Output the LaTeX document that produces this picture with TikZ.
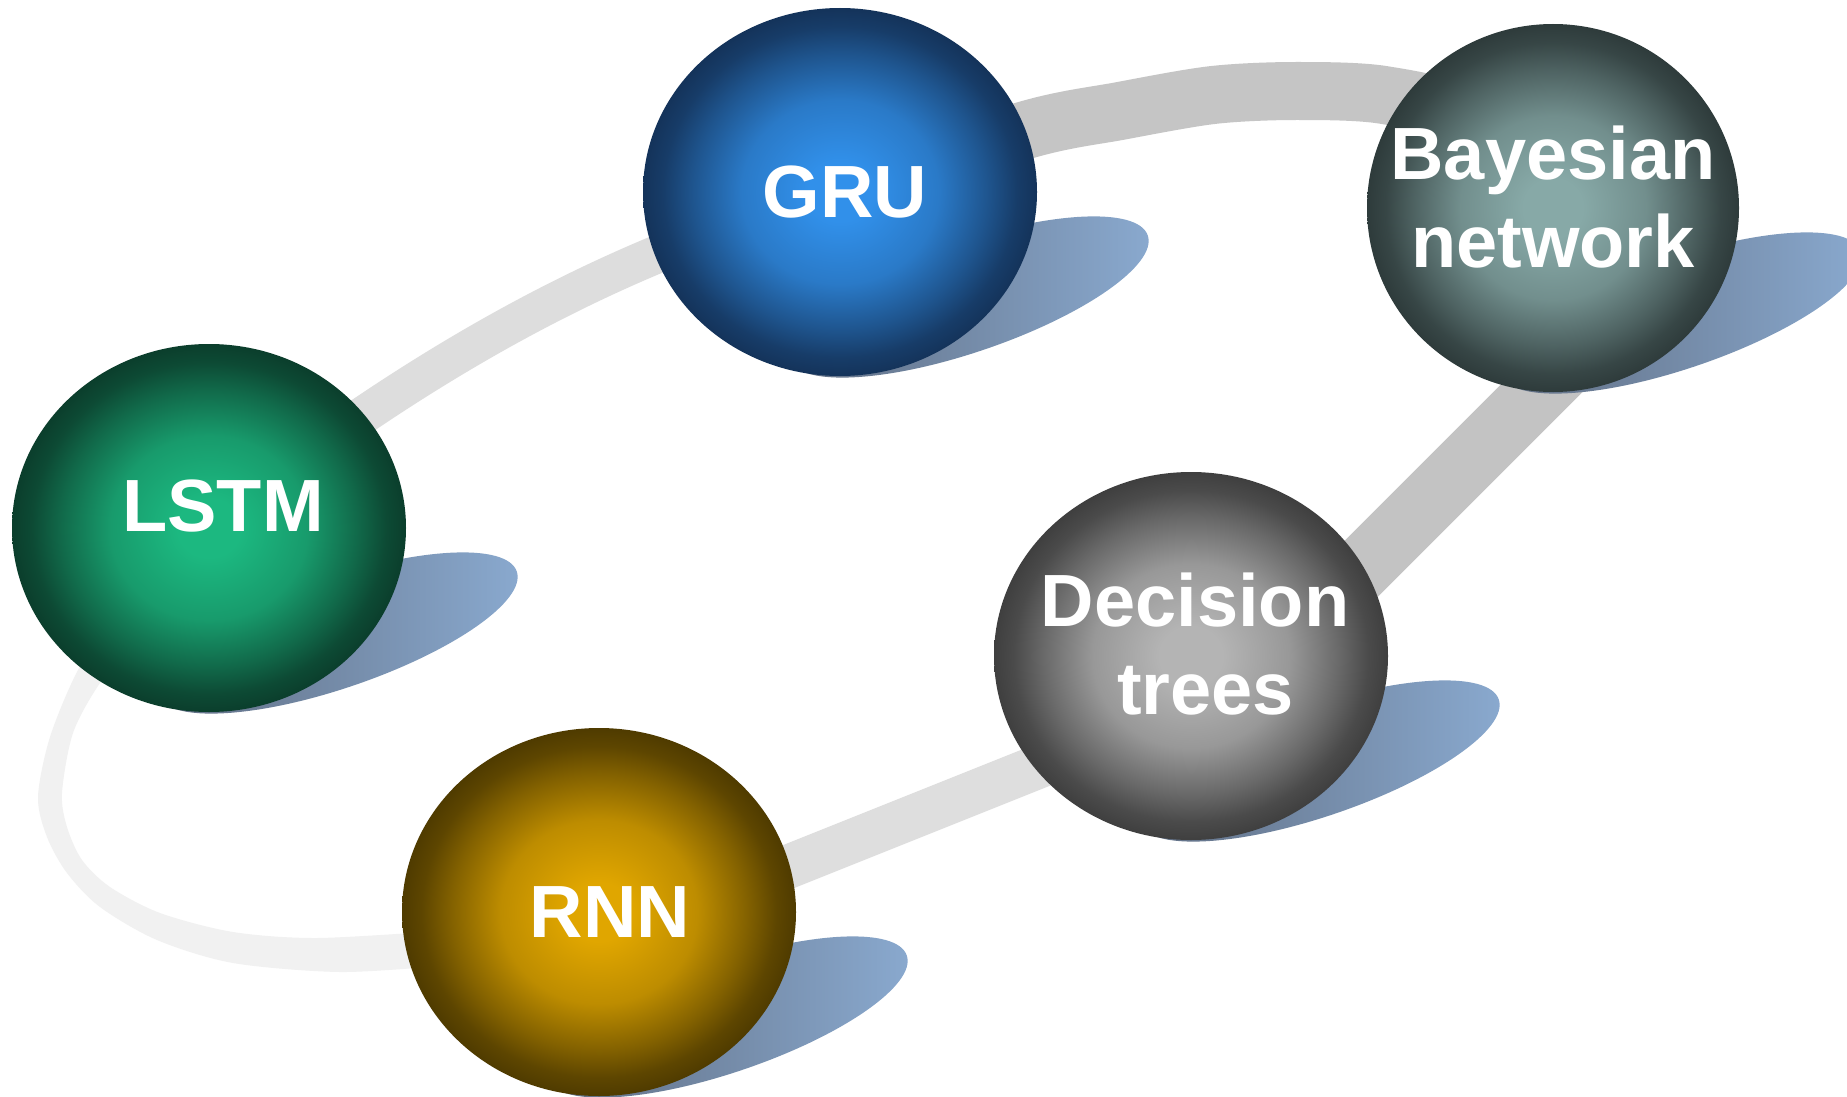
\documentclass[tikz,border=0pt]{standalone}
\usepackage{fontspec}
\setmainfont{Liberation Sans}
\usetikzlibrary{shapes.geometric}

\newcommand{\mkball}[3]{%
  \definecolor{#1C}{HTML}{#2}%
  \definecolor{#1E}{HTML}{#3}%
  \colorlet{#1A}{#1C!76!#1E}%
  \colorlet{#1B}{#1C!36!#1E}%
  \colorlet{#1D}{#1C!10!#1E}%
  \pgfdeclareradialshading{#1shade}{\pgfpoint{0bp}{0bp}}{color(0bp)=(#1C); color(4bp)=(#1C); color(12.5bp)=(#1A); color(18.75bp)=(#1B); color(22.5bp)=(#1D); color(25bp)=(#1E); color(50bp)=(#1E)}%
}
\mkball{gru}{3190EA}{14335A}
\mkball{lstm}{1CB880}{0B3E2C}
\mkball{bay}{87A9A7}{2E3B3B}
\mkball{dec}{B4B4B4}{3F3F3F}
\mkball{rnn}{E0A600}{4F3B00}

\definecolor{bandA}{HTML}{DDDDDD}
\definecolor{bandB}{HTML}{C5C5C5}
\definecolor{bandC}{HTML}{C3C3C3}
\definecolor{bandD}{HTML}{DEDEDE}
\definecolor{bandE}{HTML}{F1F1F1}
\definecolor{shdark}{HTML}{5F6C80}
\definecolor{shlight}{HTML}{8AAAD0}

\begin{document}
\begin{tikzpicture}[x=1pt, y=-1pt,
  ball/.style={ellipse, minimum width=394pt, minimum height=368pt, inner sep=0pt, shade},
  lbl/.style={text=white, font=\fontsize{74}{88}\selectfont\bfseries, align=center, inner sep=0pt},
  bandline/.style={line cap=butt, line join=round},
  shadowshape/.style={left color=shdark, right color=shlight}]
\fill[white] (0,0) rectangle (1847,1097);
\useasboundingbox (0,0) rectangle (1847,1097);

% ball centres
\coordinate (cG) at (840,192);
\coordinate (cB) at (1553,208);
\coordinate (cL) at (209,528);
\coordinate (cD) at (1191,656);
\coordinate (cR) at (599,912);

% ring band
\draw[bandline, line width=38pt, draw=bandA] (cL) .. controls (406,374) and (598.5,256.7) .. (cG);
\draw[bandline, line width=58pt, draw=bandB] plot[smooth] coordinates {(cG) (1026,130) (1120,111) (1213,95) (1296,91) (1384,95) (1470,120) (cB)};
\draw[bandline, line width=63pt, draw=bandC] (cB) -- (1610,320) -- (1310,620) -- (cD);
\draw[bandline, line width=44pt, draw=bandD] (cD) -- (1110,738) -- (700,902) -- (cR);
\fill[bandE] plot[smooth] coordinates {(440,966) (340,972) (233,963) (157,940) (100,907) (67,873) (47,837) (38,797) (50,737) (78,670) (115,615)}
  -- plot[smooth] coordinates {(140,635) (100,683) (73,733) (62,793) (67,827) (82,860) (110,887) (160,913) (233,932) (317,938) (440,931)} -- cycle;

% shadows
\foreach \c in {cG,cB,cL,cD,cR}{
  \shade[shadowshape, shift={(\c)}, shift={(128,105)}, rotate=18.9] (0,0) ellipse [x radius=190, y radius=55];
}

% balls
\node[ball, shading=grushade] (gru) at (cG) {};
\node[ball, shading=bayshade, minimum width=372pt] (bay) at (cB) {};
\node[ball, shading=lstmshade] (lstm) at (cL) {};
\node[ball, shading=decshade] (dec) at (cD) {};
\node[ball, shading=rnnshade] (rnn) at (cR) {};

% labels
\node[lbl] (gruT) at ([shift={(5,0)}]gru.center) {GRU};
\node[lbl] (lstmT) at ([shift={(14,-22)}]lstm.center) {LSTM};
\node[lbl] (bayT) at ([shift={(0,-11)}]bay.center) {Bayesian\\network};
\node[lbl] (decT) at ([shift={(4,-12)}]dec.center) {Decision\\\hspace*{21pt}trees};
\node[lbl] (rnnT) at ([shift={(11,0)}]rnn.center) {RNN};
\end{tikzpicture}
\end{document}
